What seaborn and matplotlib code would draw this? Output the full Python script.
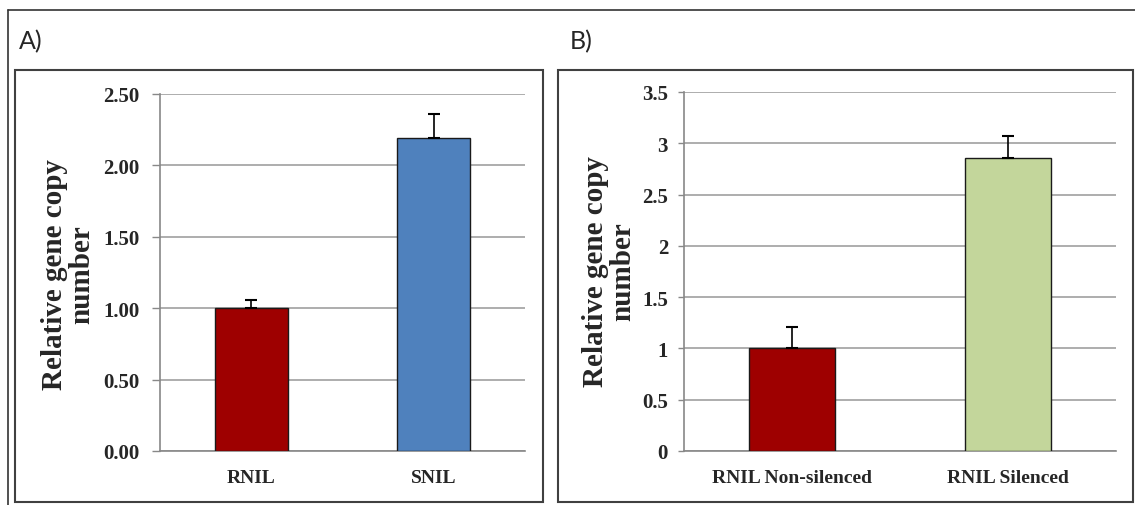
import matplotlib
matplotlib.use("Agg")
import matplotlib.pyplot as plt
from matplotlib.patches import Rectangle
from matplotlib.lines import Line2D
import seaborn as sns
import pandas as pd

# Data
cats_a = ["RNIL", "SNIL"]
vals_a = [1.00, 2.19]
errs_a = [0.06, 0.17]
colors_a = ["#9E0000", "#4F81BD"]
yticks_a = [0.0, 0.5, 1.0, 1.5, 2.0, 2.5]
yticklabels_a = ["0.00", "0.50", "1.00", "1.50", "2.00", "2.50"]

cats_b = ["RNIL Non-silenced", "RNIL Silenced"]
vals_b = [1.00, 2.86]
errs_b = [0.21, 0.21]
colors_b = ["#9E0000", "#C3D69B"]
yticks_b = [0, 0.5, 1, 1.5, 2, 2.5, 3, 3.5]
yticklabels_b = ["0", "0.5", "1", "1.5", "2", "2.5", "3", "3.5"]

ylabel = "Relative gene copy\nnumber"

sns.set_theme(style="white")
W, H = 1135, 506
fig = plt.figure(figsize=(W / 100, H / 100), dpi=100)

def fr(x0, y0, x1, y1):
    return [x0 / W, 1 - y1 / H, (x1 - x0) / W, (y1 - y0) / H]

serif = "Liberation Serif"

def panel(rect, cats, vals, errs, colors, yt, ytl, width, ticklen, tickpad, label_xy):
    ax = fig.add_axes(fr(*rect))
    df = pd.DataFrame({"cat": cats, "val": vals})
    sns.barplot(data=df, x="cat", y="val", hue="cat", palette=colors, saturation=1,
                legend=False, width=width, edgecolor="#1a1a1a", linewidth=1.0,
                ax=ax, zorder=3)
    ax.errorbar(range(len(cats)), vals, yerr=[[0] * len(errs), errs], fmt="none",
                ecolor="black", elinewidth=1.2, capsize=4, capthick=1.5, zorder=4)
    ax.set_xlim(-0.5, len(cats) - 0.5)
    ax.set_ylim(0, yt[-1])
    ax.set_yticks(yt)
    ax.set_yticklabels(ytl, fontfamily=serif, fontweight="bold", fontsize=15)
    ax.set_xticks(range(len(cats)))
    ax.set_xticklabels(cats, fontfamily=serif, fontweight="bold", fontsize=14)
    ax.set_xticks([-0.5, 0.5, 1.5], minor=True)
    ax.tick_params(axis="x", which="major", length=0, pad=13)
    ax.tick_params(axis="x", which="minor", length=4, color="#888888", width=1, direction="out")
    ax.tick_params(axis="y", length=ticklen, color="#888888", width=1, direction="out",
                   pad=tickpad, left=True)
    ax.set_xlabel("")
    ax.set_ylabel("")
    ax.yaxis.grid(True, color="#a0a0a0", linewidth=1.2, zorder=0)
    ax.set_axisbelow(True)
    for s in ["top", "right"]:
        ax.spines[s].set_visible(False)
    for s in ["left", "bottom"]:
        ax.spines[s].set_color("#888888")
        ax.spines[s].set_linewidth(1.2)
    fig.text(label_xy[0] / W, 1 - label_xy[1] / H, ylabel, rotation=90,
             ha="center", va="center", multialignment="center",
             fontfamily=serif, fontweight="bold", fontsize=21, linespacing=1.0)
    return ax

axA = panel((160, 95, 525, 452), cats_a, vals_a, errs_a, colors_a, yticks_a, yticklabels_a,
            0.4, 6, 9, (68, 275))
axB = panel((684, 93, 1116, 452), cats_b, vals_b, errs_b, colors_b, yticks_b, yticklabels_b,
            0.4, 4.5, 7, (609, 272))

# Frames
fig.add_artist(Line2D([8 / W, 1], [1 - 11 / H, 1 - 11 / H], color="#333333", lw=1.2))
fig.add_artist(Line2D([8 / W, 8 / W], [0, 1 - 11 / H], color="#333333", lw=1.2))
for (x0, y0, x1, y1) in [(15, 71, 543, 503), (558, 71, 1133, 503)]:
    fig.add_artist(Rectangle((x0 / W, 1 - y1 / H), (x1 - x0) / W, (y1 - y0) / H,
                             fill=False, edgecolor="#404040", lw=1.5))

fig.text(19 / W, 1 - 42 / H, "A)", fontfamily="Lato", fontsize=18, va="center", ha="left")
fig.text(570 / W, 1 - 42 / H, "B)", fontfamily="Lato", fontsize=18, va="center", ha="left")

fig.savefig("out.png", dpi=100, facecolor="white")
